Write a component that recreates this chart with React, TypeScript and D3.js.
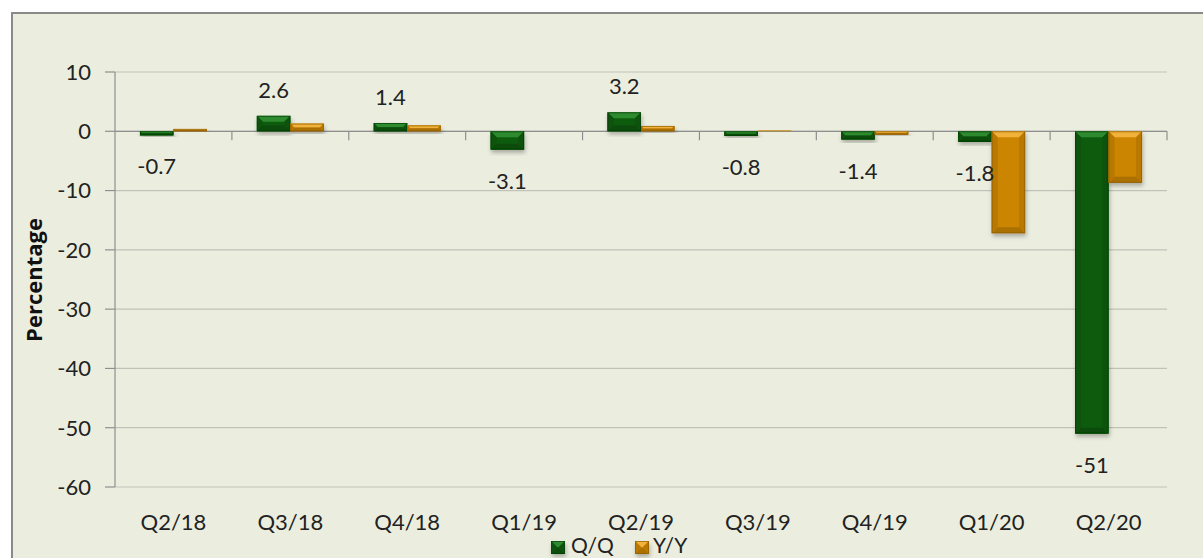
import React from "react";
import * as d3 from "d3";

const categories = ["Q2/18", "Q3/18", "Q4/18", "Q1/19", "Q2/19", "Q3/19", "Q4/19", "Q1/20", "Q2/20"];
const qoq = [-0.7, 2.6, 1.4, -3.1, 3.2, -0.8, -1.4, -1.8, -51];
const yoy = [0.4, 1.3, 1.0, 0.0, 0.9, 0.15, -0.6, -17.2, -8.7];
const qoqLabels = ["-0.7", "2.6", "1.4", "-3.1", "3.2", "-0.8", "-1.4", "-1.8", "-51"];
const yTicks = [10, 0, -10, -20, -30, -40, -50, -60];
const seriesNames = ["Q/Q", "Y/Y"];

const W = 1203;
const H = 558;
const left = 115;
const right = 1167;
const top = 72;
const bottom = 487;

const palette = {
  "Q/Q": { main: "#0b5c0b", light: "#2f8a2f", dark: "#063f06", side: "#0a520a" },
  "Y/Y": { main: "#cc8500", light: "#f1b23a", dark: "#8e5c00", side: "#b97800" },
};

const FONT = "Lato, 'Open Sans', sans-serif";

function BevelBar({ x, y, w, h, c }: { x: number; y: number; w: number; h: number; c: any }) {
  const b = Math.min(6, h / 2, w / 2);
  return (
    <g filter="url(#shadow)">
      <rect x={x} y={y} width={w} height={h} fill={c.main} />
      {h > 1.5 && (
        <>
          <polygon points={`${x},${y} ${x + w},${y} ${x + w - b},${y + b} ${x + b},${y + b}`} fill={c.light} />
          <polygon points={`${x},${y + h} ${x + w},${y + h} ${x + w - b},${y + h - b} ${x + b},${y + h - b}`} fill={c.dark} opacity={0.55} />
          <polygon points={`${x},${y} ${x + b},${y + b} ${x + b},${y + h - b} ${x},${y + h}`} fill={c.side} />
          <polygon points={`${x + w},${y} ${x + w - b},${y + b} ${x + w - b},${y + h - b} ${x + w},${y + h}`} fill={c.side} />
        </>
      )}
      <rect x={x + 0.5} y={y + 0.5} width={Math.max(0, w - 1)} height={Math.max(0, h - 1)} fill="none" stroke={c.dark} strokeWidth={1} opacity={0.7} />
    </g>
  );
}

export default function App() {
  const y = d3.scaleLinear().domain([-60, 10]).range([bottom, top]);
  const x0 = d3
    .scaleBand<string>()
    .domain(categories)
    .range([left, right])
    .paddingInner(0.427)
    .paddingOuter(0.2135);
  const x1 = d3.scaleBand<string>().domain(seriesNames).range([0, x0.bandwidth()]);
  const step = x0.step();
  const zero = y(0);
  const data = [qoq, yoy];

  return (
    <svg width={W} height={H} style={{ position: "absolute", left: 0, top: 0 }}>
      <defs>
        <filter id="shadow" x="-30%" y="-30%" width="160%" height="160%">
          <feDropShadow dx="1" dy="3" stdDeviation="2" floodColor="#000" floodOpacity="0.28" />
        </filter>
      </defs>
      <rect x={0} y={0} width={W} height={H} fill="#ffffff" />
      <rect x={12} y={13} width={W} height={H} fill="#ebeedf" stroke="#8a8a8a" strokeWidth={2} />

      {/* gridlines */}
      {yTicks.map((t) => (
        <line key={t} x1={left} x2={right} y1={y(t)} y2={y(t)} stroke="#c0c2b8" strokeWidth={1.2} />
      ))}
      {/* y axis */}
      <line x1={left} x2={left} y1={top} y2={bottom} stroke="#8f8f8f" strokeWidth={1.2} />
      {yTicks.map((t) => (
        <g key={"yt" + t}>
          <line x1={105} x2={left} y1={y(t)} y2={y(t)} stroke="#8f8f8f" strokeWidth={1.2} />
          <text x={91} y={y(t)} dy="0.36em" textAnchor="end" fontFamily={FONT} fontSize={22} fill="#222">
            {t}
          </text>
        </g>
      ))}
      {/* zero axis */}
      <line x1={left} x2={right} y1={zero} y2={zero} stroke="#8f8f8f" strokeWidth={1.2} />
      {categories.map((c, i) => (
        <line key={"xt" + c} x1={left + step * (i + 1)} x2={left + step * (i + 1)} y1={zero} y2={zero + 9} stroke="#8f8f8f" strokeWidth={1.2} />
      ))}

      {/* bars */}
      {categories.map((c, i) => (
        <g key={"bars" + c}>
          {seriesNames.map((s, j) => {
            const v = data[j][i];
            const yTop = y(Math.max(0, v));
            const h = Math.abs(y(v) - zero);
            const xx = (x0(c) as number) + (x1(s) as number);
            return <BevelBar key={s} x={xx} y={yTop} w={x1.bandwidth()} h={h} c={(palette as any)[s]} />;
          })}
        </g>
      ))}

      {/* labels */}
      {categories.map((c, i) => {
        const v = qoq[i];
        const cx = (x0(c) as number) + (x1("Q/Q") as number) + x1.bandwidth() / 2;
        const ly = v >= 0 ? y(v) - 26 : y(v) + 31;
        return (
          <text key={"lb" + c} x={cx} y={ly} dy="0.36em" textAnchor="middle" fontFamily={FONT} fontSize={22} fill="#222">
            {qoqLabels[i]}
          </text>
        );
      })}

      {/* category labels */}
      {categories.map((c) => (
        <text key={"cl" + c} x={(x0(c) as number) + x0.bandwidth() / 2} y={522} dy="0.36em" textAnchor="middle" fontFamily={FONT} fontSize={22} fill="#222">
          {c}
        </text>
      ))}

      {/* y title */}
      <text transform={`translate(34,280) rotate(-90)`} textAnchor="middle" dy="0.36em" fontFamily="'Open Sans', sans-serif" fontWeight="bold" fontSize={22} fill="#111">
        Percentage
      </text>

      {/* legend */}
      <g>
        <BevelBar x={551} y={541} w={14} h={13} c={palette["Q/Q"]} />
        <text x={571} y={553} fontFamily={FONT} fontSize={21} fill="#222">Q/Q</text>
        <BevelBar x={635} y={541} w={14} h={13} c={palette["Y/Y"]} />
        <text x={653} y={553} fontFamily={FONT} fontSize={21} fill="#222">Y/Y</text>
      </g>
    </svg>
  );
}
